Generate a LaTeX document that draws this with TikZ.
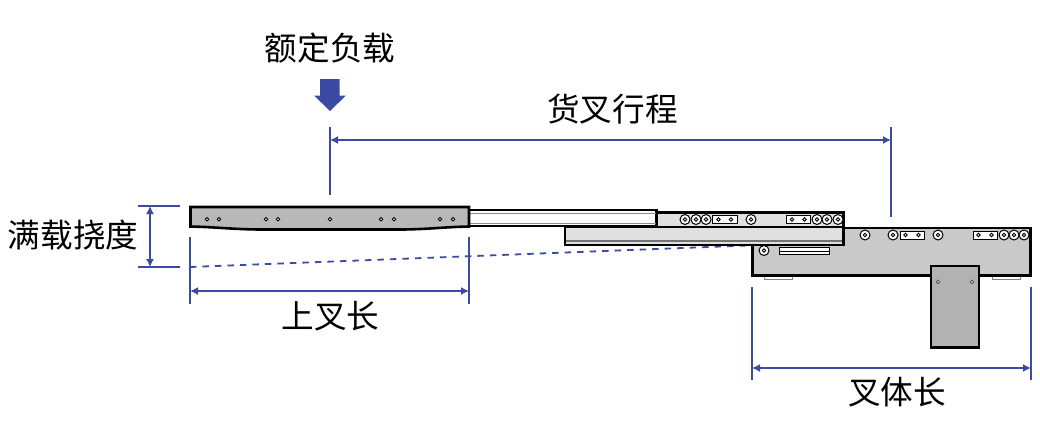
\documentclass[tikz,border=0pt]{standalone}
\usepackage{fontspec}
\setmainfont{Noto Sans CJK SC}
\usetikzlibrary{arrows.meta}
\definecolor{dimblue}{HTML}{3B4BA3}
\tikzset{
  dimline/.style={draw=dimblue, line width=1.5pt},
  dimarrow/.style={dimline, {Latex[length=8pt,width=8pt]}-{Latex[length=8pt,width=8pt]}},
  part/.style={draw=black, line width=2.6pt, miter limit=2},
  label/.style={font=\fontsize{32.6}{34}\selectfont, inner sep=0pt},
  ring/.style={circle, draw=black, fill=white, line width=1pt, minimum size=10pt, inner sep=0pt},
  pin/.style={circle, draw=black, fill=white, line width=0.9pt, minimum size=3.4pt, inner sep=0pt},
  plate/.style={draw=black, fill=white, line width=1pt}
}
\begin{document}
\begin{tikzpicture}[x=1pt, y=-1pt]
\useasboundingbox (0,0) rectangle (1040,444);

% labels
\node[label] (ratedload) at (330,48) {额定负载};
\node[label] (forktravel) at (612.5,109) {货叉行程};
\node[label] (deflection) at (73,235) {满载挠度};
\node[label] (upperlength) at (330.5,316) {上叉长};
\node[label] (bodylength) at (897,392) {叉体长};

% load arrow
\fill[dimblue] (320,79) -- (339.5,79) -- (339.5,95.5) -- (346,95.5) -- (330,111) -- (314,95.5) -- (320,95.5) -- cycle;

% dimension end points
\coordinate (traveltopl) at (330,127);
\coordinate (travelbotl) at (330,195);
\coordinate (traveltopr) at (891,127);
\coordinate (travelbotr) at (891,217);
\coordinate (travell) at (330,140);
\coordinate (travelr) at (891,140);
\coordinate (deftopl) at (138,206);
\coordinate (deftopr) at (180,206);
\coordinate (defbotl) at (138,267);
\coordinate (defbotr) at (180,267);
\coordinate (defup) at (150,206);
\coordinate (defdown) at (150,267);
\coordinate (upperltop) at (190,237);
\coordinate (upperlbot) at (190,304);
\coordinate (upperrtop) at (469,237);
\coordinate (upperrbot) at (469,304);
\coordinate (upperl) at (190,291);
\coordinate (upperr) at (469,291);
\coordinate (bodyltop) at (752,287);
\coordinate (bodylbot) at (752,380);
\coordinate (bodyrtop) at (1031,287);
\coordinate (bodyrbot) at (1031,380);
\coordinate (bodyl) at (752,368);
\coordinate (bodyr) at (1031,368);
\coordinate (sagl) at (190,267);
\coordinate (sagr) at (760,245);

\draw[dimline] (traveltopl) -- (travelbotl);
\draw[dimline] (traveltopr) -- (travelbotr);
\draw[dimarrow] (travell) -- (travelr);
\draw[dimline] (deftopl) -- (deftopr);
\draw[dimline] (defbotl) -- (defbotr);
\draw[dimarrow] (defup) -- (defdown);
\draw[dimline] (upperltop) -- (upperlbot);
\draw[dimline] (upperrtop) -- (upperrbot);
\draw[dimarrow] (upperl) -- (upperr);
\draw[dimline] (bodyltop) -- (bodylbot);
\draw[dimline] (bodyrtop) -- (bodyrbot);
\draw[dimarrow] (bodyl) -- (bodyr);
\draw[dimline, line width=1.8pt, dash pattern=on 6.5pt off 6pt] (sagl) -- (sagr);

% fork body
\foreach \x in {764,992}
  \draw[draw=gray, fill=white, line width=0.8pt] (\x,276) rectangle (\x+28,279.5);
\draw[part, fill=black!21] (752.5,228) rectangle (1030.5,275.5);
\draw[part, fill=black!30] (931,266) rectangle (979,347.5);
\foreach \x in {938,972}
  \node[circle, draw=black!70, fill=white, line width=0.9pt, minimum size=3.6pt, inner sep=0pt] (leg\x) at (\x,282) {};
\foreach \x in {865,893,938,1004,1014,1024}
  \node[ring] (body\x) at (\x,235) {};
\foreach \x in {865,893,938,1004,1014,1024}
  \node[pin] (bodypin\x) at (\x,235) {};
\foreach \x in {900,973} {
  \draw[plate] (\x,231) rectangle (\x+24.5,239.5);
  \node[pin] (bodyla\x) at (\x+5.5,235) {};
  \node[pin] (bodylb\x) at (\x+18.5,235) {};
}
\node[ring] (bodyleft) at (764,250.5) {};
\node[pin] (bodyleftpin) at (764,250.5) {};
\draw[draw=black, fill=white, line width=0.8pt] (779.5,247.5) rectangle (829,254.5);
\draw[draw=black, line width=0.8pt] (779.5,251) -- (829,251);

% intermediate carriage
\draw[part, fill=black!12] (657,212.5) rectangle (843.5,228);
\draw[part, fill=black!12] (565,227) rectangle (843.5,245);
\draw[draw=black!55, line width=1.5pt] (566,241) -- (842,241);
\foreach \x in {685,696,706,751,817,827,838}
  \node[ring] (carr\x) at (\x,219.5) {};
\foreach \x in {685,696,706,751,817,827,838}
  \node[pin] (carrpin\x) at (\x,219.5) {};
\foreach \x in {712.5,786} {
  \draw[plate] (\x,215.5) rectangle (\x+24.5,223.5);
  \node[pin] (carrla\x) at (\x+6,219.5) {};
  \node[pin] (carrlb\x) at (\x+18.5,219.5) {};
}

% inner rail
\draw[part, fill=white] (469,210) rectangle (656.5,226);
\draw[draw=black!45, line width=0.8pt] (470,213.5) -- (655.5,213.5);
\draw[draw=black!45, line width=0.8pt] (470,223) -- (655.5,223);

% upper fork
\draw[part, fill=black!28] (190.5,207) -- (469,207) -- (469,226.5) .. controls (445,227) and (425,229.5) .. (400,229.5) -- (262,229.5) .. controls (235,229.5) and (215,227) .. (190.5,226.5) -- cycle;
\foreach \x in {207,219,266,278,330,381,394,440,453}
  \node[pin] (fork\x) at (\x,219.3) {};
\end{tikzpicture}
\end{document}
